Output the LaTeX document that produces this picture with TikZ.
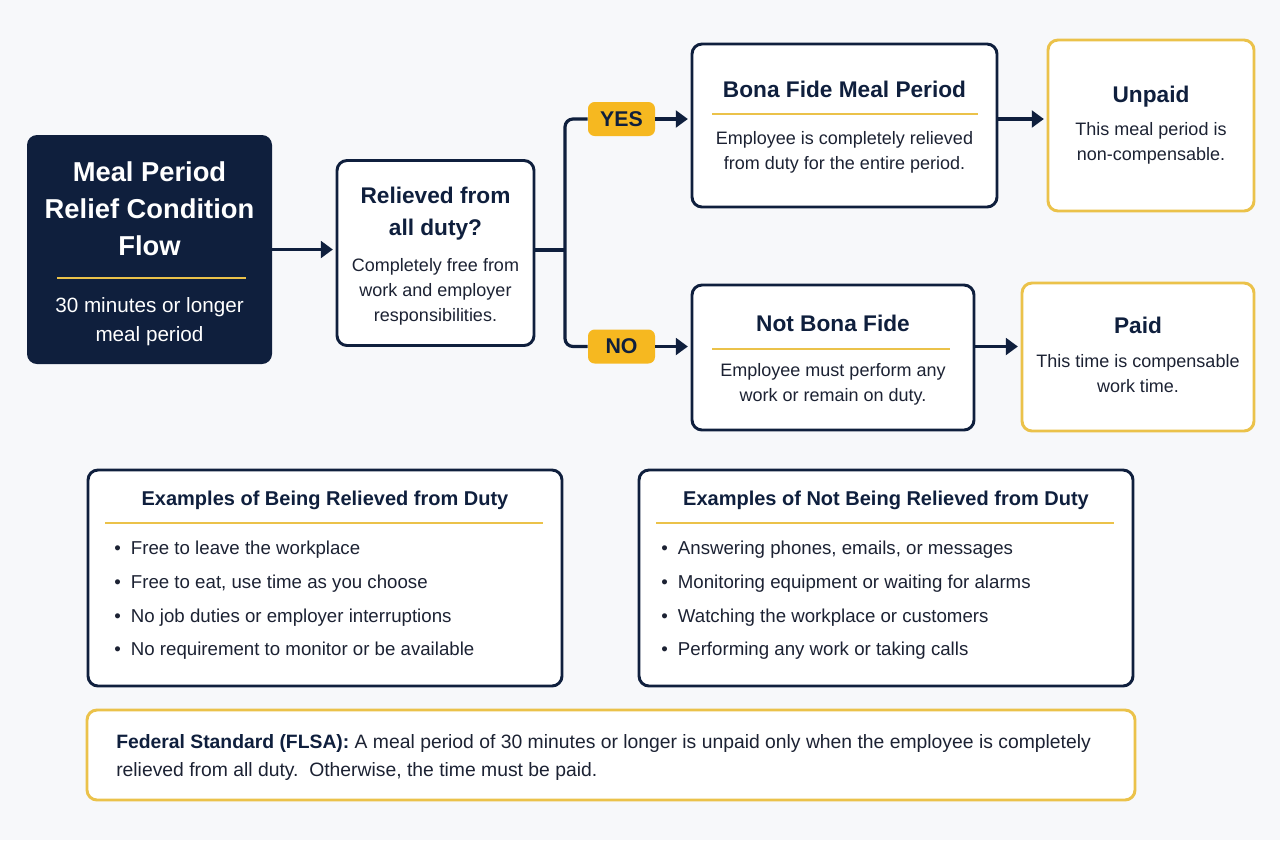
\documentclass[tikz,border=0pt]{standalone}
\usepackage{fontspec}
\setmainfont{Liberation Sans}
\usetikzlibrary{arrows.meta}

\definecolor{navy}{HTML}{0F1F3D}
\definecolor{ink}{HTML}{1C2233}
\definecolor{gold}{HTML}{F6B820}
\definecolor{goldline}{HTML}{EBC24A}
\definecolor{paper}{HTML}{F7F8FA}

\newcommand{\bul}{\makebox[12.5pt][l]{\textbullet}}

\tikzset{
  boxwh/.style 2 args={minimum width=#1*0.75pt, minimum height=#2*0.75pt},
  card/.style={draw=navy, line width=2.2pt, fill=white, rounded corners=7.5pt, inner sep=0pt},
  paybox/.style={draw=goldline, line width=2.2pt, fill=white, rounded corners=7.5pt, inner sep=0pt},
  badge/.style={fill=gold, rounded corners=5pt, text=navy, inner sep=0pt,
    font=\bfseries\fontsize{16}{18}\selectfont, boxwh={67}{34}},
  ttl/.style={text=navy, font=\bfseries\fontsize{17}{24}\selectfont, align=center, inner sep=0pt},
  txt/.style={text=ink, font=\fontsize{13.5}{18.75}\selectfont, align=center, inner sep=0pt},
  listtxt/.style={text=ink, font=\fontsize{14}{25.3}\selectfont, align=left, inner sep=0pt, anchor=west},
  rule/.style={draw=goldline, line width=1.6pt},
  wire/.style={draw=navy, line width=2.4pt},
  flow/.style={wire, shorten >=2pt, -{Triangle[length=9pt,width=12.5pt]}},
}

\begin{document}
\begin{tikzpicture}[x=0.75pt, y=-0.75pt]
    \useasboundingbox[fill=paper] (0,0) rectangle (1280,840);

    % start box
    \node[fill=navy, rounded corners=7.5pt, boxwh={245}{229}] (title) at (149.5,249.5) {};
    \node[text=white, font=\bfseries\fontsize{20.5}{27.75}\selectfont, align=center] (title-t) at (149.5,209) {Meal Period\\Relief Condition\\Flow};
    \draw[rule] (57,278) -- (246,278);
    \node[text=white, font=\fontsize{15.5}{21.75}\selectfont, align=center] (title-s) at (149.5,322) {30 minutes or longer\\meal period};

    % question
    \node[card, boxwh={197}{185}] (relieved) at (435.5,253) {};
    \node[ttl] (relieved-t) at (435.5,214) {Relieved from\\all duty?};
    \node[txt] (relieved-b) at (435.5,292) {Completely free from\\work and employer\\responsibilities.};

    % outcomes
    \node[card, boxwh={305}{163}] (bona) at (844.5,125.5) {};
    \node[ttl] (bona-t) at (844.5,89) {Bona Fide Meal Period};
    \draw[rule] (712,114) -- (978,114);
    \node[txt] (bona-b) at (844.5,152) {Employee is completely relieved\\from duty for the entire period.};

    \node[paybox, boxwh={206}{171}] (unpaid) at (1151,125.5) {};
    \node[ttl] (unpaid-t) at (1151,97) {Unpaid};
    \node[txt] (unpaid-b) at (1151,143.5) {This meal period is\\non-compensable.};

    \node[card, boxwh={282}{145}] (notbona) at (833,357.5) {};
    \node[ttl] (notbona-t) at (833,323) {Not Bona Fide};
    \draw[rule] (712,349) -- (950,349);
    \node[txt] (notbona-b) at (833,384) {Employee must perform any\\work or remain on duty.};

    \node[paybox, boxwh={232}{148}] (paid) at (1138,357) {};
    \node[ttl] (paid-t) at (1138,325) {Paid};
    \node[txt] (paid-b) at (1138,373.5) {This time is compensable\\work time.};

    % answers
    \node[badge] (yes) at (621.5,119) {YES};
    \node[badge] (no) at (621.5,346.5) {NO};

    % connectors
    \coordinate (split) at (565,250);
    \draw[flow] (title.east) -- (title.east -| relieved.west);
    \draw[wire] (relieved.east |- split) -- (split);
    \draw[wire, rounded corners=6pt] (yes.west) -| (split) |- (no.west);
    \draw[flow] (yes.east) -- (yes.east -| bona.west);
    \draw[flow] (no.east) -- (no.east -| notbona.west);
    \draw[flow] (bona.east |- yes.east) -- (unpaid.west |- yes.east);
    \draw[flow] (notbona.east |- no.east) -- (paid.west |- no.east);

    % examples
    \node[card, boxwh={474}{216}] (exyes) at (325,578) {};
    \node[ttl, font=\bfseries\fontsize{15}{18}\selectfont] (exyes-t) at (325,500) {Examples of Being Relieved from Duty};
    \draw[rule] (105,523) -- (543,523);
    \node[listtxt] (exyes-l) at (114,600.5) {\bul Free to leave the workplace\\
      \bul Free to eat, use time as you choose\\
      \bul No job duties or employer interruptions\\
      \bul No requirement to monitor or be available};

    \node[card, boxwh={494}{216}] (exno) at (886,578) {};
    \node[ttl, font=\bfseries\fontsize{15}{18}\selectfont] (exno-t) at (886,500) {Examples of Not Being Relieved from Duty};
    \draw[rule] (656,523) -- (1114,523);
    \node[listtxt] (exno-l) at (661,600.5) {\bul Answering phones, emails, or messages\\
      \bul Monitoring equipment or waiting for alarms\\
      \bul Watching the workplace or customers\\
      \bul Performing any work or taking calls};

    % rule of law
    \node[paybox, boxwh={1048}{90}] (flsa) at (611,755) {};
    \node[listtxt, font=\fontsize{14.5}{21}\selectfont] (flsa-t) at (116,757) {\textcolor{navy}{\bfseries Federal Standard (FLSA):} A meal period of 30 minutes or longer is unpaid only when the employee is completely\\relieved from all duty.\ \ Otherwise, the time must be paid.};
\end{tikzpicture}
\end{document}
